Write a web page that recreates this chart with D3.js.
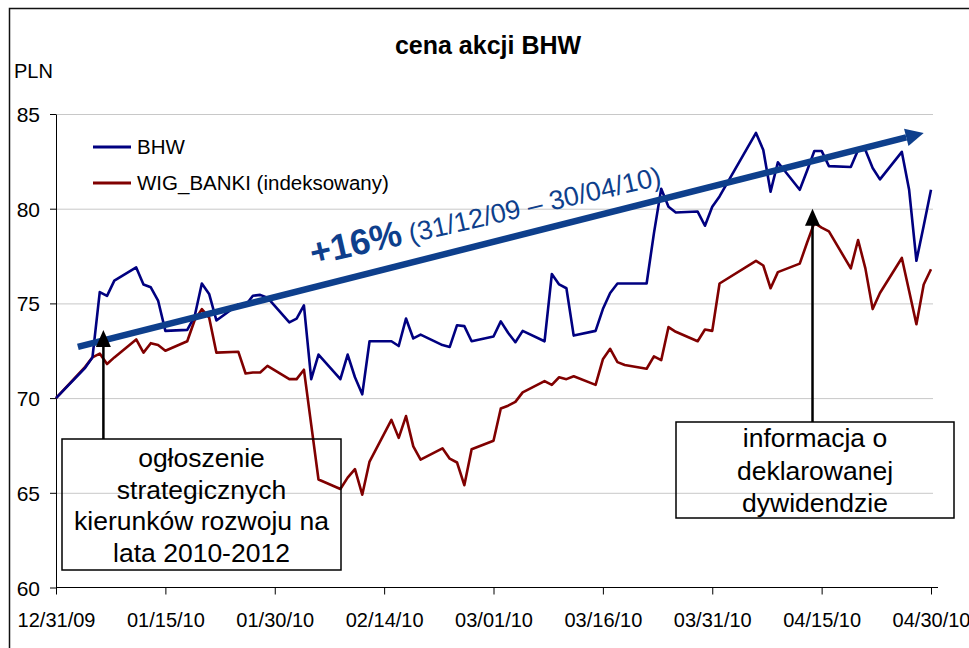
<!DOCTYPE html>
<html lang="pl">
<head>
<meta charset="UTF-8">
<style>
  body { margin: 0; background: #fff; }
  svg text { font-family: "Liberation Sans", Arial, sans-serif; fill: #000; }
</style>
</head>
<body>
<svg id="svg" width="969" height="648"></svg>
<script src="https://d3js.org/d3.v7.min.js"></script>
<script>
// trading days (m/d/y)
const days = [
  "12/31/09",
  "01/04/10","01/05/10","01/06/10","01/07/10","01/08/10","01/11/10","01/12/10","01/13/10","01/14/10","01/15/10",
  "01/18/10","01/19/10","01/20/10","01/21/10","01/22/10","01/25/10","01/26/10","01/27/10","01/28/10","01/29/10",
  "02/01/10","02/02/10","02/03/10","02/04/10","02/05/10","02/08/10","02/09/10","02/10/10","02/11/10","02/12/10",
  "02/15/10","02/16/10","02/17/10","02/18/10","02/19/10","02/22/10","02/23/10","02/24/10","02/25/10","02/26/10",
  "03/01/10","03/02/10","03/03/10","03/04/10","03/05/10","03/08/10","03/09/10","03/10/10","03/11/10","03/12/10",
  "03/15/10","03/16/10","03/17/10","03/18/10","03/19/10","03/22/10","03/23/10","03/24/10","03/25/10","03/26/10",
  "03/29/10","03/30/10","03/31/10",
  "04/01/10","04/06/10","04/07/10","04/08/10","04/09/10","04/12/10","04/13/10","04/14/10","04/15/10","04/16/10",
  "04/19/10","04/20/10","04/21/10","04/22/10","04/23/10","04/26/10","04/27/10","04/28/10","04/29/10","04/30/10"
]

const bhw = [
  70.0,
  71.6, 72.15, 75.6, 75.4, 76.2, 76.9, 76.0, 75.85, 75.15, 73.55,
  73.6, 74.3, 76.05, 75.5, 74.1, 74.95, 74.9, 75.4, 75.45, 75.3,
  74.0, 74.2, 74.9, 71.0, 72.3, 71.0, 72.3, 71.1, 70.2, 73.0,
  73.0, 72.75, 74.2, 73.15, 73.35, 72.8, 72.7, 73.85, 73.8, 73.0,
  73.25, 74.05, 73.45, 72.95, 73.55, 73.0, 76.55, 76.0, 75.8, 73.3,
  73.55, 74.7, 75.55, 76.05, 76.05, 76.05, 78.7, 81.05, 80.1, 79.8,
  79.85, 79.1, 80.1,
  80.65, 84.0, 83.1, 80.9, 82.45, 81.0, 82.0, 83.05, 83.05, 82.25,
  82.2, 83.1, 83.1, 82.15, 81.55, 83.0, 81.0, 77.25, 79.1, 81.0
]

const wigBanki = [
  70.0,
  71.65, 72.15, 72.35, 71.8, 72.15, 73.1, 72.4, 72.9, 72.8, 72.5,
  73.0, 74.1, 74.7, 74.25, 72.4, 72.45, 71.3, 71.35, 71.35, 71.7,
  71.0, 71.0, 71.5, 68.6, 65.7, 65.2, 65.8, 66.25, 64.9, 66.65,
  68.85, 67.9, 69.05, 67.45, 66.75, 67.35, 66.8, 66.6, 65.4, 67.3,
  67.75, 69.45, 69.6, 69.8, 70.3, 70.9, 70.7, 71.1, 71.0, 71.15,
  70.7, 72.05, 72.6, 71.9, 71.75, 71.55, 72.2, 72.0, 73.75, 73.5,
  73.0, 73.62, 73.55,
  76.05, 77.25, 77.0, 75.8, 76.65, 77.1, 78.2, 79.25, 79.0, 78.8,
  76.85, 78.35, 76.85, 74.7, 75.55, 77.4, 75.65, 73.9, 76.0, 76.8
]

const xTickLabels = ["12/31/09","01/15/10","01/30/10","02/14/10","03/01/10","03/16/10","03/31/10","04/15/10","04/30/10"]
const yTicks = [60, 65, 70, 75, 80, 85]

const seriesNames = ["BHW", "WIG_BANKI (indeksowany)"]
const seriesColors = ["#000080", "#800000"]

// trend arrow (from, to) and its label
const trendFrom = ["01/03/10 00", 72.7]
const trendTo = ["04/29/10 00", 84.0]
const trendBold = "+16%"
const trendRest = " (31/12/09 – 30/04/10)"
const trendTextAt = ["02/04/10 06", 77.0]

// call-out notes: arrow tip at [date, value]
const noteTips = [["01/06/10 12", 73.6], ["04/13/10 18", 80.0]]
const noteLines = [
  ["ogłoszenie", "strategicznych", "kierunków rozwoju na", "lata 2010-2012"],
  ["informacja o", "deklarowanej", "dywidendzie"]
]

const parseDay = d3.timeParse("%m/%d/%y")
const parseHour = d3.timeParse("%m/%d/%y %H")

const svg = d3.select('#svg')

// outer frame
svg.append('rect')
  .attr('x', 9.5).attr('y', 8.5)
  .attr('width', 990).attr('height', 660)
  .attr('fill', 'none').attr('stroke', '#111').attr('stroke-width', 1.5)

const margin = { top: 114, right: 38, bottom: 61, left: 56 }
const xscale = d3.scaleTime()
  .domain([parseDay("12/31/09"), parseDay("04/30/10")])
  .range([margin.left, 931])
const yscale = d3.scaleLinear()
  .domain([60, 85])
  .range([587.5, margin.top])

// gridlines
const grid = d3.axisLeft(yscale)
  .tickValues(yTicks.filter(v => v > 60))
  .tickSize(-(933 - margin.left))
  .tickFormat('')
svg.append('g')
  .attr('transform', `translate(${margin.left}, 0)`)
  .call(grid)
  .call(g => g.select('.domain').remove())
  .call(g => g.selectAll('line').attr('stroke', '#c8c8c8').attr('stroke-width', 1))

// left axis
const leftAxis = d3.axisLeft(yscale)
  .tickValues(yTicks)
  .tickSize(6)
  .tickSizeOuter(0)
  .tickPadding(10)
svg.append('g')
  .attr('transform', `translate(${margin.left}, 0)`)
  .call(leftAxis)
  .call(g => g.select('.domain').attr('stroke', '#000'))
  .call(g => g.selectAll('text').attr('font-size', 21).attr('font-family', null).attr('dy', '0.36em'))

// bottom axis
const bottomAxis = d3.axisBottom(xscale)
  .tickValues(xTickLabels.map(parseDay))
  .tickFormat(d3.timeFormat("%m/%d/%y"))
  .tickSize(7)
  .tickSizeOuter(0)
  .tickPadding(18)
svg.append('g')
  .attr('transform', `translate(0, ${yscale(60)})`)
  .call(bottomAxis)
  .call(g => g.select('.domain').remove())
  .call(g => g.selectAll('text').attr('font-size', 20).attr('font-family', null))
svg.append('line')
  .attr('x1', margin.left).attr('x2', 938)
  .attr('y1', yscale(60)).attr('y2', yscale(60))
  .attr('stroke', '#000')

svg.append('text')
  .attr('x', 14).attr('y', 78)
  .attr('font-size', 20)
  .text('PLN')

svg.append('text')
  .attr('x', 488).attr('y', 54)
  .attr('text-anchor', 'middle')
  .attr('font-size', 25)
  .attr('font-weight', 'bold')
  .text('cena akcji BHW')

// series lines
const line = d3.line()
  .x(d => xscale(d.date))
  .y(d => yscale(d.v))

const series = [wigBanki, bhw].map(vals => days.map((s, i) => ({ date: parseDay(s), v: vals[i] })))
const seriesColorsDraw = [seriesColors[1], seriesColors[0]]

svg.append('g')
  .selectAll('path')
  .data(series)
  .enter()
  .append('path')
  .attr('d', line)
  .attr('fill', 'none')
  .attr('stroke', (d, i) => seriesColorsDraw[i])
  .attr('stroke-width', 2.6)
  .attr('stroke-linejoin', 'round')

// trend arrow
const trendColor = '#0e3f8c'
const tx1 = xscale(parseHour(trendFrom[0])), ty1 = yscale(trendFrom[1])
const tx2 = xscale(parseHour(trendTo[0])), ty2 = yscale(trendTo[1])
const ang = Math.atan2(ty2 - ty1, tx2 - tx1)
const headLen = 18, headHalf = 9
const bx = tx2 - headLen * Math.cos(ang), by = ty2 - headLen * Math.sin(ang)
svg.append('line')
  .attr('x1', tx1).attr('y1', ty1)
  .attr('x2', bx).attr('y2', by)
  .attr('stroke', trendColor).attr('stroke-width', 6.5)
svg.append('polygon')
  .attr('points', [
    [tx2, ty2],
    [bx + headHalf * Math.sin(ang), by - headHalf * Math.cos(ang)],
    [bx - headHalf * Math.sin(ang), by + headHalf * Math.cos(ang)]
  ].join(' '))
  .attr('fill', trendColor)

const lx = xscale(parseHour(trendTextAt[0])), ly = yscale(trendTextAt[1])
const label = svg.append('text')
  .attr('transform', `translate(${lx}, ${ly}) rotate(-13)`)
  .style('fill', trendColor)
label.append('tspan').attr('font-size', 36).attr('font-weight', 'bold').text(trendBold)
label.append('tspan').attr('font-size', 27).text(trendRest)

// call-out boxes and arrows
const boxes = [
  { x: 62, y: 439, w: 279, h: 131, cx: 201.5, first: 467, step: 31.5 },
  { x: 676, y: 422, w: 278, h: 96, cx: 815, first: 447, step: 32.5 }
]
noteTips.forEach((tip, i) => {
  const b = boxes[i]
  const ax = xscale(parseHour(tip[0])), ay = yscale(tip[1])
  svg.append('line')
    .attr('x1', ax).attr('x2', ax)
    .attr('y1', b.y).attr('y2', ay + 15)
    .attr('stroke', '#000').attr('stroke-width', 2.5)
  svg.append('polygon')
    .attr('points', [[ax, ay], [ax - 7.5, ay + 17], [ax + 7.5, ay + 17]].join(' '))
    .attr('fill', '#000')
  svg.append('rect')
    .attr('x', b.x).attr('y', b.y)
    .attr('width', b.w).attr('height', b.h)
    .attr('fill', 'none').attr('stroke', '#000').attr('stroke-width', 1.5)
  svg.append('g')
    .selectAll('text')
    .data(noteLines[i])
    .enter()
    .append('text')
    .attr('x', b.cx)
    .attr('y', (d, j) => b.first + j * b.step)
    .attr('text-anchor', 'middle')
    .attr('font-size', 26.5)
    .text(d => d)
})

// legend
const legend = svg.append('g')
seriesNames.forEach((name, i) => {
  const ly = 147 + i * 36
  legend.append('line')
    .attr('x1', 93).attr('x2', 131)
    .attr('y1', ly).attr('y2', ly)
    .attr('stroke', seriesColors[i]).attr('stroke-width', 3)
  legend.append('text')
    .attr('x', 137).attr('y', ly + 7)
    .attr('font-size', 20.5)
    .text(name)
})
</script>
</body>
</html>
